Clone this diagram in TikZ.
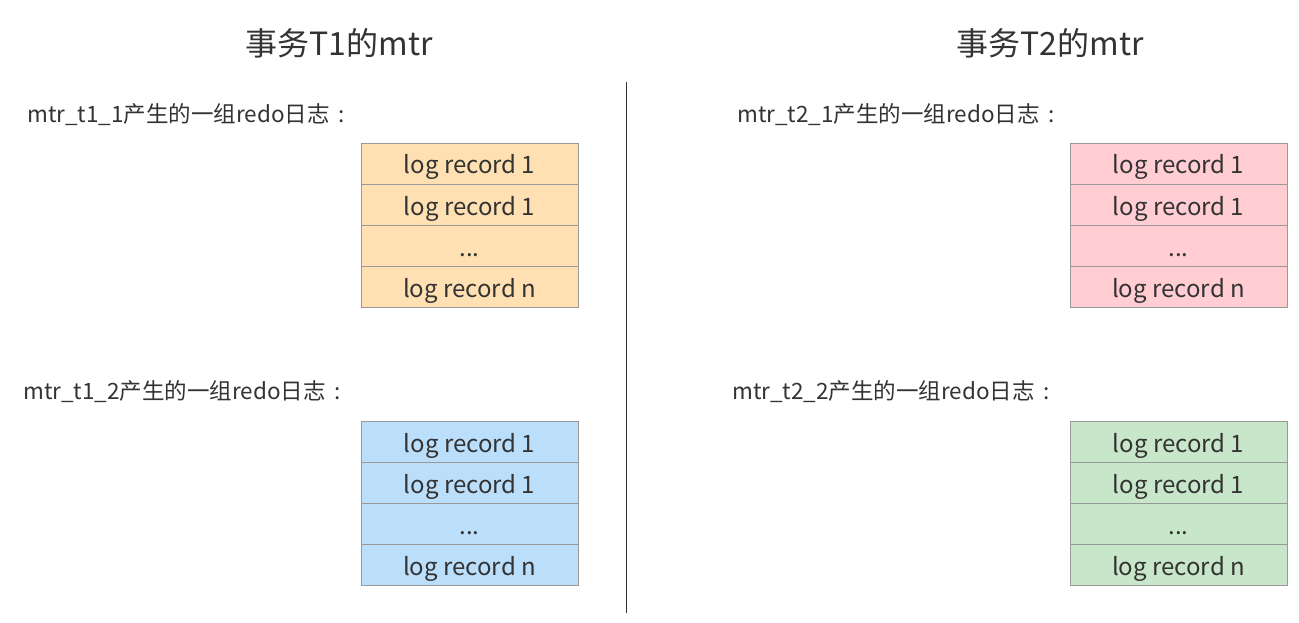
\documentclass[tikz,border=0pt]{standalone}
\usepackage{fontspec}
\setmainfont{Noto Sans CJK SC}
\newcommand{\fwcolon}{\makebox[1em]{:}}
\begin{document}
\begin{tikzpicture}[x=1pt,y=-1pt,
  txt/.style={text=black!80, inner sep=0pt},
  cell/.style={draw=black!40, line width=0.8pt, minimum width=217pt, minimum height=41pt,
    inner sep=0pt, text=black!80, text height=21pt, text depth=0pt,
    font=\fontsize{24}{28}\selectfont},
  heading/.style={txt, font=\fontsize{32}{36}\selectfont},
  caption/.style={txt, anchor=west, font=\fontsize{22.5}{26}\selectfont}]
\definecolor{cOrange}{RGB}{255,224,178}
\definecolor{cBlue}{RGB}{187,222,251}
\definecolor{cPink}{RGB}{255,205,210}
\definecolor{cGreen}{RGB}{200,230,201}
\useasboundingbox (0,0) rectangle (1299,623);
\fill[white] (0,0) rectangle (1299,623);

% headings
\node[heading] (h1) at (339,43) {事务T1的mtr};
\node[heading] (h2) at (1050,43) {事务T2的mtr};

% separator
\draw[black!80, line width=1pt] (626,82) coordinate (s1) -- (626,613) coordinate (s2);

% captions
\node[caption] (c11) at (27,115) {mtr\_t1\_1产生的一组redo日志\fwcolon};
\node[caption] (c12) at (23,392) {mtr\_t1\_2产生的一组redo日志\fwcolon};
\node[caption] (c21) at (737,115) {mtr\_t2\_1产生的一组redo日志\fwcolon};
\node[caption] (c22) at (732,392) {mtr\_t2\_2产生的一组redo日志\fwcolon};

% record stacks
\foreach \nm/\x/\y/\col in {a/469.5/143/cOrange, b/469.5/421/cBlue, c/1178.5/143/cPink, d/1178.5/421/cGreen}{
  \node[cell, fill=\col] (\nm1) at (\x,\y+20.5) {log record 1};
  \node[cell, fill=\col] (\nm2) at (\x,\y+61.5) {log record 1};
  \node[cell, fill=\col] (\nm3) at (\x,\y+102.5) {...};
  \node[cell, fill=\col] (\nm4) at (\x,\y+143.5) {log record n};
}
\end{tikzpicture}
\end{document}
